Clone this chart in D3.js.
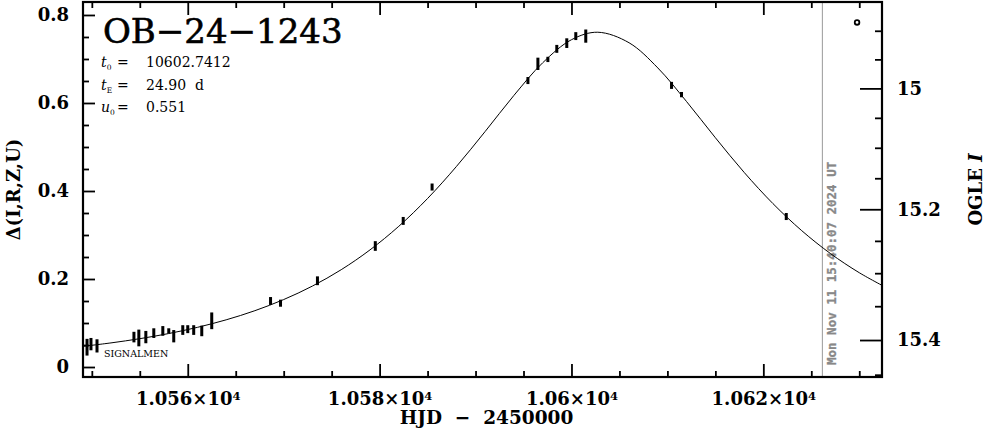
<!DOCTYPE html>
<html><head><meta charset="utf-8">
<script src="https://cdn.jsdelivr.net/npm/d3@7"></script>
<style>body{margin:0;background:#fff}svg{display:block}</style>
</head><body><svg id="c" width="986" height="434"></svg>
<script>
// ---- data ----
const obsT = [10549.50,10549.91,10550.54,10554.39,10554.90,10555.63,10556.46,10557.40,10558.02,10558.54,10559.48,10560.00,10560.62,10561.46,10562.50,
  10568.63,10569.67,10573.52,10579.55,10582.46,10585.47,10595.46,10596.50,10597.54,10598.47,10599.51,10600.45,10601.49,10610.43,10611.47,10622.39];
const obsD = [0.045,0.052,0.048,0.068,0.066,0.068,0.077,0.082,0.082,0.070,0.084,0.086,0.084,0.082,0.105,
  0.150,0.145,0.196,0.275,0.332,0.409,0.651,0.689,0.699,0.723,0.736,0.752,0.752,0.640,0.619,0.342];
const obsErr = [0.019,0.014,0.015,0.012,0.019,0.014,0.011,0.011,0.006,0.014,0.011,0.009,0.011,0.012,0.019,
  0.009,0.008,0.010,0.011,0.009,0.008,0.008,0.014,0.006,0.009,0.011,0.009,0.015,0.008,0.006,0.008];
const modelT = [10549,10552,10555,10558,10561,10564,10567,10570,10573,10576,10579,10582,10585,10588,10591,10594,10597,10600,10602.74,10606,10609,10612,10615,10618,10621,10624,10627,10630,10633];
const modelD = [0.0468,0.0548,0.0644,0.0760,0.0901,0.1072,0.1280,0.1533,0.1840,0.2212,0.2662,0.3198,0.3830,0.4555,0.5352,0.6172,0.6914,0.7438,0.7608,0.7369,0.6797,0.6032,0.5211,0.4423,0.3714,0.3099,0.2578,0.2143,0.1783];
const markerT = [10629.77];
const markerD = [0.783];
const xMajor = [10560,10580,10600,10620];
const xMinor = [10550,10555,10565,10570,10575,10585,10590,10595,10605,10610,10615,10625,10630];
const yMajor = [0,0.2,0.4,0.6,0.8];
const yMinor = [0.05,0.1,0.15,0.25,0.3,0.35,0.45,0.5,0.55,0.65,0.7,0.75];
const magMajor = [15,15.2,15.4];
const magMinor = [14.9,14.95,15.05,15.1,15.15,15.25,15.3,15.35,15.45];
const xLabels = ["1.056","1.058","1.06","1.062"];
const dateT = 10626.153;
const dateLabel = "Mon Nov 11 15:40:07 2024 UT";
const eventName = "OB\u221224\u22121243";
const params = [["t","0","10602.7412"],["t","E","24.90  d"],["u","0","0.551"]];
const magBase = 15.439, fsOGLE = 0.6294;

// ---- layout ----
const svg = d3.select("#c");
const L = 83, R = 882, T = 2, B = 377;
const x = d3.scaleLinear().domain([10549.08, 10632.37]).range([L, R]);
const y = d3.scaleLinear().domain([-0.0227, 0.8295]).range([B, T]);
const magToDelta = m => 2.5 * Math.log10(1 + (Math.pow(10, 0.4 * (magBase - m)) - 1) / fsOGLE);
const magAll = magMajor.concat(magMinor).sort(d3.ascending);
const yMag = d3.scaleLinear().domain(magAll).range(magAll.map(m => y(magToDelta(m))));

const serif = "'DejaVu Serif', serif";
const g = svg.append("g");

svg.append("clipPath").attr("id","clip").append("rect").attr("x",L).attr("y",T).attr("width",R-L).attr("height",B-T);

// date line
g.append("line").attr("x1",x(dateT)).attr("x2",x(dateT)).attr("y1",T).attr("y2",B)
  .attr("stroke","#999").attr("stroke-width",1);
g.append("text").attr("transform",`translate(${x(dateT)+14},${B-12}) rotate(-90)`)
  .attr("font-family","'DejaVu Sans Mono', monospace").attr("font-weight","bold")
  .attr("font-size",12.5).attr("fill","#888").attr("stroke","#888").attr("stroke-width",0.3).text(dateLabel);

// model curve
const line = d3.line().x((d,i)=>x(modelT[i])).y(d=>y(d)).curve(d3.curveCatmullRom.alpha(0.5));
g.append("path").datum(modelD).attr("clip-path","url(#clip)").attr("d",line)
  .attr("fill","none").attr("stroke","#000").attr("stroke-width",1);

// data bars
g.selectAll("rect.obs").data(obsD).enter().append("rect").attr("class","obs")
  .attr("x",(d,i)=>x(obsT[i])-1.5).attr("width",3)
  .attr("y",(d,i)=>y(d+obsErr[i])).attr("height",(d,i)=>y(d-obsErr[i])-y(d+obsErr[i]))
  .attr("fill","#000");

// marker
g.selectAll("circle.mk").data(markerD).enter().append("circle")
  .attr("cx",(d,i)=>x(markerT[i])).attr("cy",d=>y(d)).attr("r",2.3)
  .attr("fill","#fff").attr("stroke","#000").attr("stroke-width",1.8);

// axes
function style(sel){ sel.select(".domain").remove(); sel.selectAll(".tick line").attr("stroke","#000").attr("stroke-width",1.8); }
const bottomMaj = g.append("g").attr("transform",`translate(0,${B})`)
  .call(d3.axisBottom(x).tickValues(xMajor).tickSize(-13).tickPadding(15).tickFormat(""));
style(bottomMaj);
bottomMaj.selectAll(".tick text").each(function(d,i){
  const t = d3.select(this).attr("font-family",serif).attr("font-weight","bold").attr("font-size",18).attr("fill","#000");
  t.append("tspan").text(xLabels[i] + "\u00d710");
  t.append("tspan").attr("dy","-0.45em").attr("font-size",11.5).text("4");
});
style(g.append("g").attr("transform",`translate(0,${B})`).call(d3.axisBottom(x).tickValues(xMinor).tickSize(-6).tickFormat("")));
style(g.append("g").attr("transform",`translate(0,${T})`).call(d3.axisTop(x).tickValues(xMajor).tickSize(-13).tickFormat("")));
style(g.append("g").attr("transform",`translate(0,${T})`).call(d3.axisTop(x).tickValues(xMinor).tickSize(-6).tickFormat("")));

const leftMaj = g.append("g").attr("transform",`translate(${L},0)`)
  .call(d3.axisLeft(y).tickValues(yMajor).tickSize(-12).tickPadding(14).tickFormat(d3.format("~g")));
style(leftMaj);
leftMaj.selectAll(".tick text").attr("font-family",serif).attr("font-weight","bold").attr("font-size",18).attr("fill","#000");
style(g.append("g").attr("transform",`translate(${L},0)`).call(d3.axisLeft(y).tickValues(yMinor).tickSize(-6).tickFormat("")));

const rightMaj = g.append("g").attr("transform",`translate(${R},0)`)
  .call(d3.axisRight(yMag).tickValues(magMajor).tickSize(-22).tickPadding(15).tickFormat(d3.format("~g")));
style(rightMaj);
rightMaj.selectAll(".tick text").attr("font-family",serif).attr("font-weight","bold").attr("font-size",18).attr("fill","#000");
style(g.append("g").attr("transform",`translate(${R},0)`).call(d3.axisRight(yMag).tickValues(magMinor).tickSize(-7).tickFormat("")));

// frame
g.append("rect").attr("x",L).attr("y",T).attr("width",R-L).attr("height",B-T)
  .attr("fill","none").attr("stroke","#000").attr("stroke-width",2.2);

// axis titles
g.append("text").attr("x",(L+R)/2+4).attr("y",424).attr("text-anchor","middle")
  .attr("font-family",serif).attr("font-weight","bold").attr("font-size",18.5)
  .attr("xml:space","preserve").style("white-space","pre").text("HJD  \u2212  2450000");
g.append("text").attr("transform",`translate(14,${(T+B)/2}) rotate(-90)`).attr("dy","0.35em").attr("text-anchor","middle")
  .attr("font-family",serif).attr("font-weight","bold").attr("font-size",18).text("\u0394(I,R,Z,U)");
const rt = g.append("text").attr("transform",`translate(976,${(T+B)/2}) rotate(-90)`).attr("dy","0.35em").attr("text-anchor","middle")
  .attr("font-family",serif).attr("font-weight","bold").attr("font-size",18);
rt.append("tspan").text("OGLE ");
rt.append("tspan").attr("font-style","italic").text("I");

// title & params
g.append("text").attr("x",103).attr("y",43).attr("font-family",serif).attr("font-size",34)
  .attr("stroke","#000").attr("stroke-width",0.6).text(eventName);
params.forEach((p,i)=>{
  const yy = 67 + i*22.5;
  const t = g.append("text").attr("x",101).attr("y",yy).attr("font-family",serif).attr("font-size",14);
  t.append("tspan").attr("font-style","italic").text(p[0]);
  t.append("tspan").attr("dy",3).attr("font-size",7.5).text(p[1]);
  g.append("text").attr("x",117).attr("y",yy).attr("font-family",serif).attr("font-size",14).text("=");
  g.append("text").attr("x",146).attr("y",yy).attr("font-family",serif).attr("font-size",14).attr("xml:space","preserve").style("white-space","pre").text(p[2]);
});
g.append("text").attr("x",104).attr("y",357).attr("font-family",serif).attr("font-size",9.5).text("SIGNALMEN");
</script></body></html>
